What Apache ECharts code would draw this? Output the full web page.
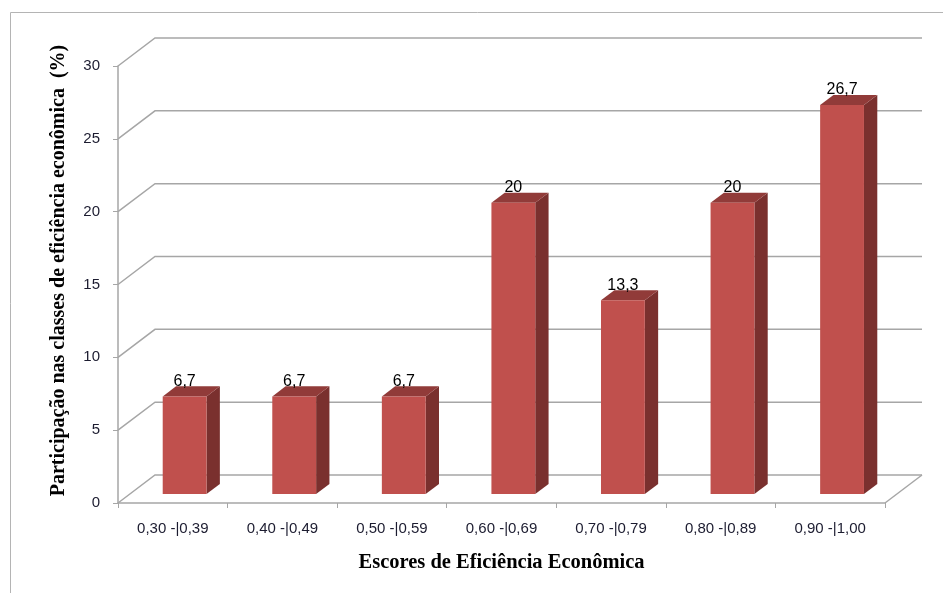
<!DOCTYPE html>
<html>
<head>
<meta charset="utf-8">
<script src="https://cdn.jsdelivr.net/npm/echarts@6/dist/echarts.min.js"></script>
<style>
html,body{margin:0;padding:0;background:#fff;}
#chart{width:943px;height:593px;}
</style>
</head>
<body>
<div id="chart"></div>
<script>
const categories = ['0,30 -|0,39','0,40 -|0,49','0,50 -|0,59','0,60 -|0,69','0,70 -|0,79','0,80 -|0,89','0,90 -|1,00'];
const values = [6.7, 6.7, 6.7, 20, 13.3, 20, 26.7];
const yTicks = [0, 5, 10, 15, 20, 25, 30];
const yTitle = 'Participação nas classes de eficiência econômica  (%)';
const xTitle = 'Escores de Eficiência Econômica';

const DX = 37, DY = -28;       // depth of the 3D box
const F1 = 0.32, F2 = 0.68;    // bar depth position (front/back fractions)
const BAR_W = 0.40;            // bar width as fraction of band

const chart = echarts.init(document.getElementById('chart'), null, {renderer: 'canvas'});

function gridItem(params, api) {
  const v = api.value(0);
  const p = api.coord([0, v]);
  const band = api.size([1, 0])[0];
  const left = p[0] - band / 2;
  const right = left + band * categories.length;
  const y = p[1];
  const style = {stroke: '#a6a6a6', lineWidth: 1.5, fill: null};
  const children = [{
    type: 'polyline',
    shape: {points: [[left, y], [left + DX, y + DY], [right + DX, y + DY]]},
    style: style
  }];
  if (v === 0) {
    children.push({type: 'line', shape: {x1: right, y1: y, x2: right + DX, y2: y + DY}, style: style});
  }
  return {type: 'group', children: children};
}

function barItem(params, api) {
  const i = api.value(0);
  const v = api.value(1);
  const base = api.coord([i, 0]);
  const top = api.coord([i, v]);
  const band = api.size([1, 0])[0];
  const w = band * BAR_W;
  const x0 = base[0] + F1 * DX - w / 2;
  const x1 = x0 + w;
  const yT = top[1] + F1 * DY;
  const yB = base[1] + F1 * DY;
  const ddx = (F2 - F1) * DX, ddy = (F2 - F1) * DY;
  return {
    type: 'group',
    children: [
      {type: 'polygon', shape: {points: [[x1, yT], [x1 + ddx, yT + ddy], [x1 + ddx, yB + ddy], [x1, yB]]},
        style: {fill: '#7a302e'}},
      {type: 'polygon', shape: {points: [[x0, yT], [x0 + ddx, yT + ddy], [x1 + ddx, yT + ddy], [x1, yT]]},
        style: {fill: '#913b39'}},
      {type: 'rect', shape: {x: x0, y: yT, width: w, height: yB - yT},
        style: {fill: '#c0504d'}},
      {type: 'text', x: (x0 + x1) / 2, y: yT + ddy + 3,
        style: {text: String(v).replace('.', ','), fill: '#000', font: '16px "Liberation Sans"',
          align: 'center', verticalAlign: 'bottom'}}
    ]
  };
}

chart.setOption({
  animation: false,
  graphic: [{
    type: 'rect', shape: {x: 10.5, y: 12.5, width: 1000, height: 1000},
    style: {fill: null, stroke: '#b4b4b4', lineWidth: 1}, z: -10
  }],
  grid: {left: 118, top: 66, width: 767, height: 437},
  xAxis: {
    type: 'category',
    data: categories,
    name: xTitle,
    nameLocation: 'middle',
    nameGap: 49,
    nameTextStyle: {fontFamily: 'Liberation Serif', fontWeight: 'bold', fontSize: 20.5, color: '#000'},
    axisLine: {lineStyle: {color: '#a6a6a6', width: 1.5}},
    axisTick: {show: true, length: 5, lineStyle: {color: '#a6a6a6'}},
    axisLabel: {fontFamily: 'Liberation Sans', fontSize: 15, color: '#1c1c30', margin: 18}
  },
  yAxis: {
    type: 'value',
    min: 0, max: 30, interval: 5,
    name: yTitle,
    nameLocation: 'middle',
    nameRotate: 90,
    nameGap: 49,
    nameTextStyle: {fontFamily: 'Liberation Serif', fontWeight: 'bold', fontSize: 20, color: '#000',
      padding: [0, 0, 0, 28]},
    axisLine: {show: true, lineStyle: {color: '#a6a6a6', width: 1.5}},
    axisTick: {show: true, length: 5, lineStyle: {color: '#a6a6a6'}},
    axisLabel: {fontFamily: 'Liberation Sans', fontSize: 15, color: '#1c1c30', margin: 18},
    splitLine: {show: false}
  },
  series: [
    {type: 'custom', renderItem: gridItem, data: yTicks.map(v => [v]), z: 1, silent: true,
      encode: {y: 0}},
    {type: 'custom', renderItem: barItem, data: values.map((v, i) => [i, v]), z: 5,
      encode: {x: 0, y: 1}}
  ]
});
</script>
</body>
</html>
